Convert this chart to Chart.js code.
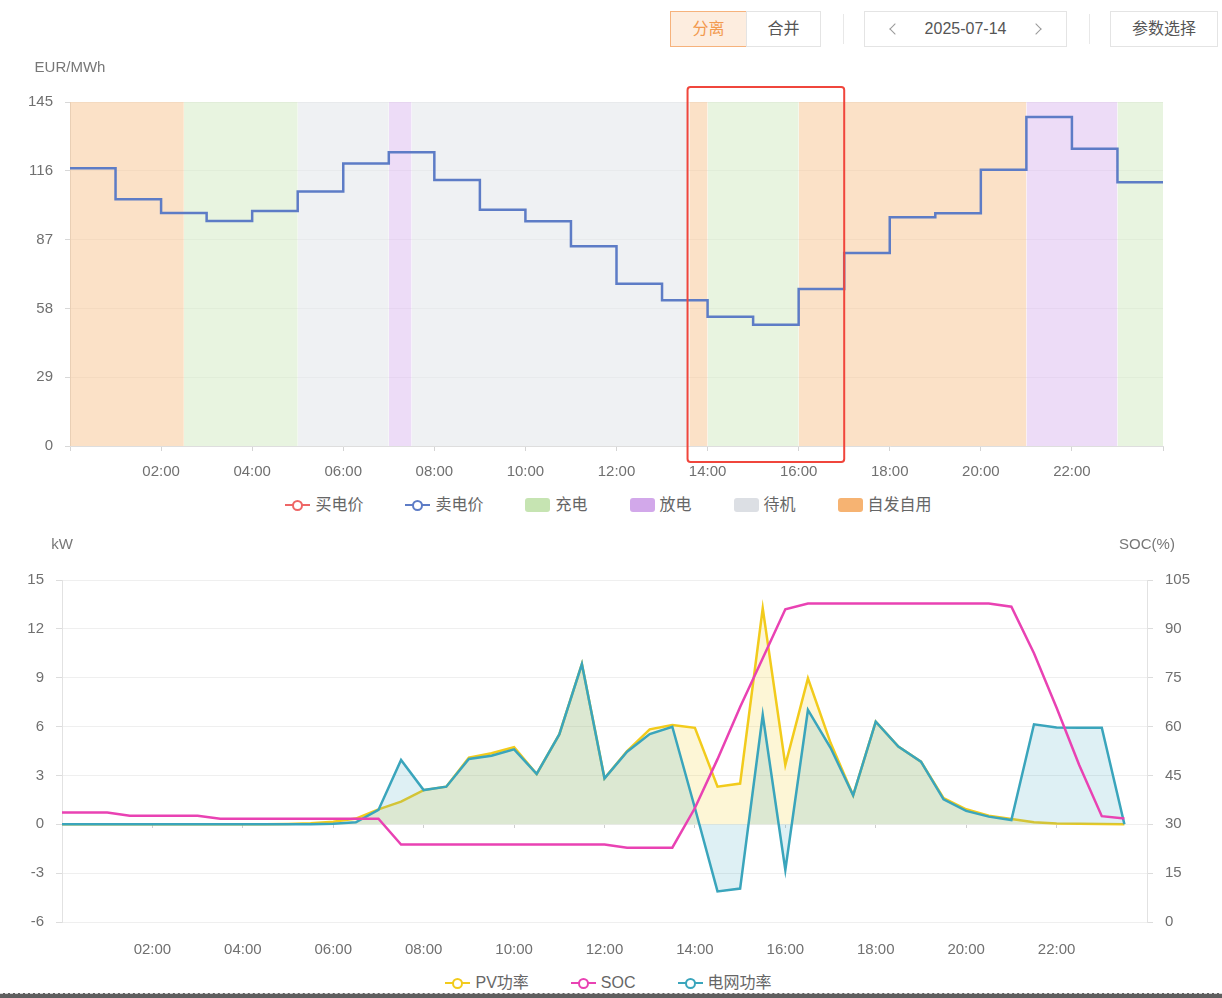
<!DOCTYPE html>
<html lang="zh-CN">
<head>
<meta charset="utf-8">
<title>策略曲线</title>
<script src="https://cdn.jsdelivr.net/npm/chart.js@4.4.1/dist/chart.umd.min.js"></script>
<style>
    html, body { margin: 0; padding: 0; background: #fff; }
    body { width: 1222px; height: 998px; position: relative; overflow: hidden; font-family: 'Liberation Sans', 'Noto Sans CJK SC', sans-serif; color: #666; }
    .btn { position: absolute; top: 11px; height: 36px; box-sizing: border-box; border: 1px solid #e4e4e4; font-size: 16px; line-height: 34px; text-align: center; color: #555; background: #fff; }
    .btn.on { border-color: #f6b27c; background: #fdeddf; color: #f29a4f; }
    .divider { position: absolute; top: 14px; width: 1px; height: 30px; background: #e8e8e8; }
    .chev { position: absolute; top: 13px; width: 7px; height: 7px; border-left: 1.5px solid #999; border-bottom: 1.5px solid #999; }
    .chev.prev { left: 26px; transform: rotate(45deg); }
    .chev.next { right: 26px; transform: rotate(-135deg); }
    .wrap { position: absolute; left: 0; width: 1222px; height: 430px; }
    .legend { position: absolute; left: 0; width: 1217px; height: 20px; display: flex; justify-content: center; gap: 42px; font-size: 16px; color: #666; }
    .item { display: flex; align-items: center; gap: 5px; height: 20px; line-height: 20px; }
    .ico-line { width: 25px; height: 14px; position: relative; }
    .ico-line::before { content: ''; position: absolute; left: 0; right: 0; top: 6px; height: 2px; background: var(--c); }
    .ico-line::after { content: ''; position: absolute; left: 7px; top: 1.5px; width: 7px; height: 7px; border: 2px solid var(--c); border-radius: 50%; background: #fff; }
    .ico-box { width: 25px; height: 14px; border-radius: 3px; background: var(--c); }
    .strip { position: absolute; left: 0; top: 993px; width: 1222px; height: 5px; background: #5f5f5f; border-top: 1px dashed #d8d8d8; }
</style>
</head>
<body>
<div class="btn on" style="left:670px;width:77px;">分离</div>
<div class="btn" style="left:746px;width:75px;">合并</div>
<div class="divider" style="left:843px;"></div>
<div class="btn" style="left:864px;width:203px;"><span class="chev prev"></span>2025-07-14<span class="chev next"></span></div>
<div class="divider" style="left:1089px;"></div>
<div class="btn" style="left:1110px;width:108px;">参数选择</div>

<div class="wrap" style="top:55px;"><canvas id="priceChart"></canvas></div>
<div class="legend" id="priceLegend" style="top:495px;"></div>

<div class="wrap" style="top:530px;"><canvas id="powerChart"></canvas></div>
<div class="legend" id="powerLegend" style="top:973px;"></div>
<div class="strip"></div>

<script>
/* price chart: hourly sell price (EUR/MWh) + operating mode bands */
const sellPrice = [117.1, 104.0, 98.2, 94.8, 99.1, 107.3, 119.1, 123.8, 112.1, 99.6, 94.7, 84.2,
    68.4, 61.4, 54.5, 51.1, 66.2, 81.4, 96.4, 98.1, 116.4, 138.7, 125.3, 111.2];
const buyPrice = [];
const modeStart = [0, 2.5, 5, 7, 7.5, 13.6, 14, 16, 21, 23];
const modeEnd = [2.5, 5, 7, 7.5, 13.6, 14, 16, 21, 23, 24];
const modeKind = ['自发自用', '充电', '待机', '放电', '待机', '自发自用', '充电', '自发自用', '放电', '充电'];
const priceTicks = [0, 29, 58, 87, 116, 145];
const timeTicks = [0, 2, 4, 6, 8, 10, 12, 14, 16, 18, 20, 22, 24];
const timeLabels = ['', '02:00', '04:00', '06:00', '08:00', '10:00', '12:00', '14:00', '16:00', '18:00', '20:00', '22:00', ''];
const highlightFrom = 13.56;
const highlightTo = 17;

/* power chart: half-hourly values */
const slotHours = [0, 0.5, 1, 1.5, 2, 2.5, 3, 3.5, 4, 4.5, 5, 5.5, 6, 6.5, 7, 7.5, 8, 8.5, 9, 9.5, 10, 10.5, 11, 11.5,
    12, 12.5, 13, 13.5, 14, 14.5, 15, 15.5, 16, 16.5, 17, 17.5, 18, 18.5, 19, 19.5, 20, 20.5, 21, 21.5, 22, 22.5, 23, 23.5];
const pvPower = [0, 0, 0, 0, 0, 0, 0, 0, 0, 0, 0.02, 0.06, 0.15, 0.35, 0.92, 1.39, 2.1, 2.31, 4.09, 4.36, 4.73, 3.09, 5.52, 9.84,
    2.82, 4.5, 5.83, 6.1, 5.92, 2.31, 2.5, 13.26, 3.64, 8.96, 5.0, 1.78, 6.3, 4.77, 3.85, 1.6, 0.92, 0.53, 0.32, 0.12, 0.05, 0.03, 0.02, 0];
const gridPower = [0, 0, 0, 0, 0, 0, 0, 0, 0, 0, 0, 0, 0.03, 0.12, 0.88, 3.95, 2.1, 2.31, 4.01, 4.21, 4.6, 3.09, 5.52, 9.84,
    2.82, 4.46, 5.54, 5.99, 1.0, -4.12, -3.95, 6.71, -2.8, 7.02, 4.7, 1.78, 6.3, 4.77, 3.85, 1.53, 0.82, 0.47, 0.26, 6.14, 5.95, 5.93, 5.93, 0];
const socLevel = [33.6, 33.6, 33.6, 32.6, 32.6, 32.6, 32.6, 31.7, 31.7, 31.7, 31.7, 31.7, 31.7, 31.7, 31.7, 23.8, 23.8, 23.8, 23.8, 23.8,
    23.8, 23.8, 23.8, 23.8, 23.8, 22.8, 22.8, 22.8, 35, 50, 66, 81, 96, 97.8, 97.8, 97.8, 97.8, 97.8, 97.8, 97.8, 97.8, 97.8,
    96.8, 82.5, 65.8, 48.2, 32.5, 31.8];
const powerTicks = [-6, -3, 0, 3, 6, 9, 12, 15];
const socTicks = [0, 15, 30, 45, 60, 75, 90, 105];

const FONT = "'Liberation Sans', 'Noto Sans CJK SC', sans-serif";
const TICK_C = '#707070';
const modeStyle = {
    '充电': { band: 'rgba(198,228,178,0.4)', key: '#c6e4b2' },
    '放电': { band: 'rgba(210,168,234,0.4)', key: '#d2a8ea' },
    '待机': { band: 'rgba(220,223,228,0.45)', key: '#dcdfe4' },
    '自发自用': { band: 'rgba(246,179,114,0.4)', key: '#f6b372' },
};

Chart.defaults.font.family = FONT;
Chart.defaults.animation = false;

const axisNames = {
    id: 'axisNames',
    afterDraw(chart, args, opts) {
        const { ctx, chartArea } = chart;
        ctx.save();
        ctx.font = `15px ${FONT}`;
        ctx.fillStyle = '#777';
        ctx.textAlign = 'center';
        ctx.textBaseline = 'middle';
        (opts.items || []).forEach((it) => {
            const s = chart.scales[it.scale];
            const x = s.position === 'right' ? s.left : s.right;
            ctx.fillText(it.text, x, chartArea.top - opts.offset);
        });
        ctx.restore();
    },
};

const highlightBox = {
    id: 'highlightBox',
    afterDraw(chart, args, opts) {
        if (!opts.color) return;
        const { ctx, chartArea: a } = chart;
        const x = chart.scales.x;
        const l = x.getPixelForValue(opts.from);
        const r = x.getPixelForValue(opts.to);
        ctx.save();
        ctx.strokeStyle = opts.color;
        ctx.lineWidth = 2;
        ctx.beginPath();
        ctx.roundRect(l, a.top - opts.above, r - l, a.bottom - a.top + opts.above + opts.below, 3);
        ctx.stroke();
        ctx.restore();
    },
};

function timeAxis(height, extra) {
    return Object.assign({
        type: 'linear', min: 0, max: 24,
        afterBuildTicks: (s) => { s.ticks = timeTicks.map((v) => ({ value: v })); },
        afterFit: (s) => { s.height = height; },
    }, extra);
}

/* ---- price chart ---- */
const bandSets = modeKind.map((kind, i) => ({
    label: kind,
    data: [{ x: modeStart[i], y: 145 }, { x: modeEnd[i], y: 145 }],
    borderColor: 'transparent',
    borderWidth: 0,
    backgroundColor: modeStyle[kind].band,
    fill: 'origin',
    pointRadius: 0,
}));

new Chart(document.getElementById('priceChart'), {
    type: 'line',
    data: {
        datasets: [
            {
                label: '卖电价',
                data: sellPrice.concat(sellPrice[sellPrice.length - 1]).map((v, h) => ({ x: h, y: v })),
                stepped: 'before',
                borderColor: '#5d7cc6',
                borderWidth: 2.5,
                pointRadius: 0,
                fill: false,
            },
            { label: '买电价', data: buyPrice, borderColor: '#ee6666', borderWidth: 2.5, pointRadius: 0, fill: false },
            ...bandSets,
        ],
    },
    options: {
        responsive: true,
        maintainAspectRatio: false,
        events: [],
        layout: { padding: { top: 47, right: 59, left: 0, bottom: 0 } },
        plugins: {
            legend: { display: false },
            tooltip: { enabled: false },
            axisNames: { offset: 34, items: [{ scale: 'y', text: 'EUR/MWh' }] },
            highlightBox: { from: highlightFrom, to: highlightTo, above: 15, below: 16, color: '#f0463c' },
        },
        scales: {
            x: timeAxis(39, {
                grid: { drawOnChartArea: false, tickLength: 5, color: '#d4d4d4' },
                border: { color: '#dedede' },
                ticks: { color: TICK_C, font: { size: 15 }, padding: 12, maxRotation: 0, autoSkip: false, callback: (v, i) => timeLabels[i] },
            }),
            y: {
                min: 0, max: 145,
                afterBuildTicks: (s) => { s.ticks = priceTicks.map((v) => ({ value: v })); },
                afterFit: (s) => { s.width = 70; },
                grid: { color: 'rgba(0,0,0,0.05)', tickLength: 5, tickColor: '#d8d8d8' },
                border: { color: '#e2e2e2' },
                ticks: { color: TICK_C, font: { size: 15 }, padding: 12 },
            },
        },
    },
    plugins: [axisNames, highlightBox],
});

/* ---- power chart ---- */
const toPoints = (arr) => arr.map((v, i) => ({ x: slotHours[i], y: v }));

new Chart(document.getElementById('powerChart'), {
    type: 'line',
    data: {
        datasets: [
            { label: 'SOC', data: toPoints(socLevel), yAxisID: 'y1', xAxisID: 'x', borderColor: '#e942b3', borderWidth: 2.5, pointRadius: 0, fill: false },
            { label: '电网功率', data: toPoints(gridPower), yAxisID: 'y', xAxisID: 'x', borderColor: '#3aa5bc', backgroundColor: 'rgba(58,165,188,0.17)', borderWidth: 2.5, pointRadius: 0, fill: 'origin' },
            { label: 'PV功率', data: toPoints(pvPower), yAxisID: 'y', xAxisID: 'x', borderColor: '#f2cb1c', backgroundColor: 'rgba(242,203,28,0.18)', borderWidth: 2.5, pointRadius: 0, fill: 'origin' },
        ],
    },
    options: {
        responsive: true,
        maintainAspectRatio: false,
        events: [],
        layout: { padding: { top: 50, right: 0, left: 0, bottom: 0 } },
        plugins: {
            legend: { display: false },
            tooltip: { enabled: false },
            axisNames: { offset: 35, items: [{ scale: 'y', text: 'kW' }, { scale: 'y1', text: 'SOC(%)' }] },
        },
        scales: {
            x: timeAxis(38, {
                grid: { display: false, drawTicks: false },
                border: { display: false },
                ticks: { color: TICK_C, font: { size: 15 }, padding: 19, maxRotation: 0, autoSkip: false, callback: (v, i) => timeLabels[i] },
            }),
            xz: {
                type: 'linear', axis: 'x', min: 0, max: 24, position: { y: 0 },
                afterBuildTicks: (s) => { s.ticks = timeTicks.map((v) => ({ value: v })); },
                ticks: { display: false },
                grid: { drawOnChartArea: false, tickLength: 4, color: '#cfcfcf' },
                border: { display: false },
            },
            y: {
                position: 'left', min: -6, max: 15,
                afterBuildTicks: (s) => { s.ticks = powerTicks.map((v) => ({ value: v })); },
                afterFit: (s) => { s.width = 62; },
                grid: { color: '#efefef', tickLength: 6, tickColor: '#dcdcdc' },
                border: { color: '#e2e2e2' },
                ticks: { color: TICK_C, font: { size: 15 }, padding: 12 },
            },
            y1: {
                position: 'right', min: 0, max: 105,
                afterBuildTicks: (s) => { s.ticks = socTicks.map((v) => ({ value: v })); },
                afterFit: (s) => { s.width = 75; },
                grid: { drawOnChartArea: false, tickLength: 6, color: '#dcdcdc' },
                border: { color: '#e2e2e2' },
                ticks: { color: TICK_C, font: { size: 15 }, padding: 12 },
            },
        },
    },
    plugins: [axisNames],
});

/* ---- html legends ---- */
function legend(id, items) {
    document.getElementById(id).innerHTML = items.map((it) =>
        `<div class="item"><span class="${it.box ? 'ico-box' : 'ico-line'}" style="--c:${it.color}"></span>${it.text}</div>`
    ).join('');
}
legend('priceLegend', [
    { text: '买电价', color: '#ee6666' },
    { text: '卖电价', color: '#5d7cc6' },
    ...['充电', '放电', '待机', '自发自用'].map((k) => ({ text: k, color: modeStyle[k].key, box: true })),
]);
legend('powerLegend', [
    { text: 'PV功率', color: '#f2cb1c' },
    { text: 'SOC', color: '#e942b3' },
    { text: '电网功率', color: '#3aa5bc' },
]);
</script>
</body>
</html>
